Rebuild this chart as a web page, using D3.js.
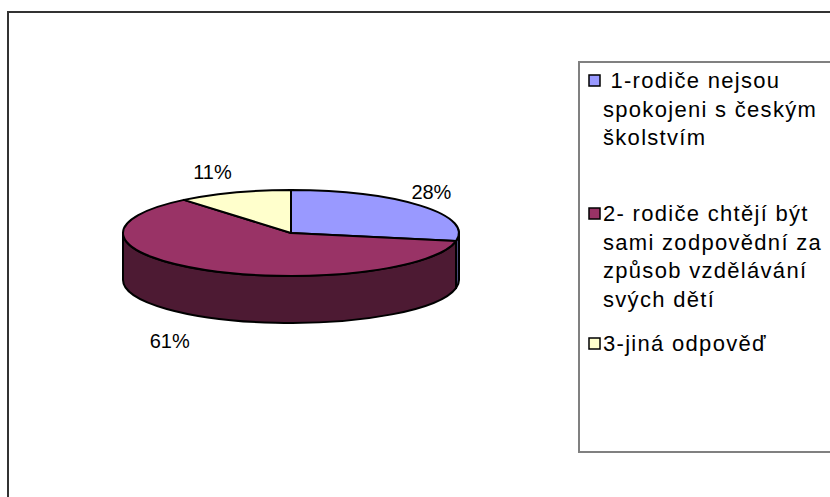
<!DOCTYPE html>
<html>
<head>
<meta charset="utf-8">
<script src="https://cdn.jsdelivr.net/npm/d3@7"></script>
<style>
  body { margin: 0; background: #fff; }
  text { font-family: "Liberation Sans", Arial, sans-serif; fill: #000; }
</style>
</head>
<body>
<div id="wrapper"></div>
<script>
// data
const categories = ["1-rodiče nejsou spokojeni s českým školstvím",
                    "2- rodiče chtějí být sami zodpovědní za způsob vzdělávání svých dětí",
                    "3-jiná odpověď"];
const values = [28, 61, 11];
const legendLines = [[" 1-rodiče nejsou", "spokojeni s českým", "školstvím"],
                     ["2- rodiče chtějí být", "sami zodpovědní za", "způsob vzdělávání", "svých dětí"],
                     ["3-jiná odpověď"]];
const topColors = ["#9999FF", "#993366", "#FFFFCC"];
const sideColors = ["#4D4D80", "#4D1A33", "#80805F"];

var dimension = { width: 830, height: 497 }

const svg = d3.select("#wrapper")
    .append("svg")
    .attr("width", dimension.width)
    .attr("height", dimension.height)

// outer chart frame (runs off the right / bottom)
svg.append("rect")
    .attr("x", 8).attr("y", 12)
    .attr("width", 900).attr("height", 600)
    .attr("fill", "none")
    .attr("stroke", "#333")
    .attr("stroke-width", 2)

// 3d pie geometry
var cx = 291, cy = 233, rx = 168, ry = 43, depth = 47

var pie = d3.pie().sort(null).value(d => d)
var arcs = pie(values)
var total = d3.sum(values)

var pt = (a, dy) => [cx + rx * Math.sin(a), cy - ry * Math.cos(a) + (dy || 0)]

function topPath(d) {
    var p0 = pt(d.startAngle), p1 = pt(d.endAngle)
    var large = (d.endAngle - d.startAngle) > Math.PI ? 1 : 0
    return `M${cx},${cy}L${p0}A${rx},${ry} 0 ${large} 1 ${p1}Z`
}

function sidePath(d) {
    // only the front half of the rim is visible
    var s = Math.max(d.startAngle, Math.PI / 2)
    var e = Math.min(d.endAngle, Math.PI * 1.5)
    if (e <= s) return null
    var large = (e - s) > Math.PI ? 1 : 0
    return `M${pt(s)}A${rx},${ry} 0 ${large} 1 ${pt(e)}` +
        `L${pt(e, depth)}A${rx},${ry} 0 ${large} 0 ${pt(s, depth)}Z`
}

var pieG = svg.append("g")

pieG.selectAll("path.side")
    .data(arcs.filter(d => sidePath(d)))
    .enter()
    .append("path")
    .attr("class", "side")
    .attr("d", sidePath)
    .attr("fill", d => sideColors[d.index])
    .attr("stroke", "#000")
    .attr("stroke-width", 2)
    .attr("stroke-linejoin", "round")

pieG.selectAll("path.top")
    .data(arcs)
    .enter()
    .append("path")
    .attr("class", "top")
    .attr("d", topPath)
    .attr("fill", d => topColors[d.index])
    .attr("stroke", "#000")
    .attr("stroke-width", 2)
    .attr("stroke-linejoin", "round")

// percentage labels outside the pie
function labelPos(d) {
    var a = (d.startAngle + d.endAngle) / 2
    var s = Math.sin(a), c = Math.cos(a)
    var front = c < 0
    var rxL = rx * 1.1 + (front ? 22 : 0)
    var ryL = ry * 1.5 + (front ? 6 : 0)
    return [cx + rxL * s - (s < 0 ? 16 : 2), cy - ryL * c + (front ? depth : 0)]
}

pieG.selectAll("text.pct")
    .data(arcs)
    .enter()
    .append("text")
    .attr("class", "pct")
    .attr("x", d => labelPos(d)[0])
    .attr("y", d => labelPos(d)[1])
    .attr("text-anchor", "middle")
    .attr("dominant-baseline", "central")
    .style("font-size", "20px")
    .text(d => Math.round(d.data / total * 100) + "%")

// legend
var legend = svg.append("g")
legend.append("rect")
    .attr("x", 579).attr("y", 62)
    .attr("width", 400).attr("height", 390)
    .attr("fill", "none")
    .attr("stroke", "#808080")
    .attr("stroke-width", 2)

var entryTop = [88, 221, 351]
var lineH = 28.5

var entry = legend.selectAll("g.entry")
    .data(categories)
    .enter()
    .append("g")
    .attr("class", "entry")
    .attr("transform", (d, i) => `translate(0,${entryTop[i]})`)

entry.append("rect")
    .attr("x", 589).attr("y", -13)
    .attr("width", 11).attr("height", 11)
    .attr("fill", (d, i) => topColors[i])
    .attr("stroke", "#000")
    .attr("stroke-width", 1.5)

entry.append("text")
    .style("font-size", "22px")
    .style("letter-spacing", "1.3px")
    .style("white-space", "pre")
    .selectAll("tspan")
    .data((d, i) => legendLines[i])
    .enter()
    .append("tspan")
    .attr("x", 603)
    .attr("y", (d, j) => j * lineH)
    .text(d => d)
</script>
</body>
</html>
